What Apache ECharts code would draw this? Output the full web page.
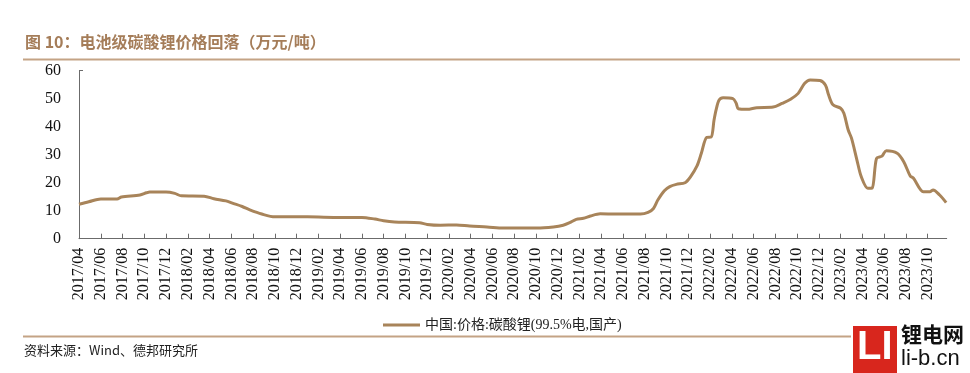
<!DOCTYPE html>
<html>
<head>
<meta charset="utf-8">
<script src="https://cdn.jsdelivr.net/npm/echarts@6/dist/echarts.min.js"></script>
<style>
html,body{margin:0;padding:0;background:#fff;}
#c{width:970px;height:373px;}
</style>
</head>
<body>
<div id="c"></div>
<script>
// ---- data ----
const dates = [
 '2017/04/01','2017/04/28','2017/06/01','2017/07/16','2017/07/28','2017/09/19','2017/10/07','2017/10/16',
 '2017/12/01','2017/12/25','2018/01/13','2018/03/16','2018/04/13','2018/05/16','2018/06/04','2018/07/01',
 '2018/07/22','2018/08/25','2018/10/01','2019/01/01','2019/04/01','2019/06/01','2019/07/07','2019/08/01',
 '2019/09/01','2019/11/10','2019/12/01','2020/01/07','2020/02/22','2020/03/28','2020/05/16','2020/07/01',
 '2020/10/04','2020/11/19','2020/12/16','2021/01/04','2021/01/22','2021/02/12','2021/03/01','2021/03/28',
 '2021/05/13','2021/07/19','2021/08/10','2021/08/25','2021/09/07','2021/09/25','2021/10/10','2021/10/28',
 '2021/11/22','2021/12/07','2021/12/25','2022/01/07','2022/01/22','2022/02/04','2022/02/12','2022/02/18',
 '2022/02/26','2022/03/07','2022/04/04','2022/04/13','2022/04/19','2022/05/13','2022/06/10','2022/07/25',
 '2022/08/19','2022/09/13','2022/10/04','2022/10/22','2022/11/07','2022/12/04','2022/12/19','2022/12/28',
 '2023/01/10','2023/02/01','2023/02/10','2023/02/22','2023/03/01','2023/03/16','2023/03/28','2023/04/16',
 '2023/04/28','2023/05/10','2023/05/25','2023/06/07','2023/07/07','2023/07/25','2023/08/13','2023/08/22',
 '2023/09/19','2023/10/07','2023/10/16','2023/11/04','2023/11/22'
];
const prices = [
 12.3,13.2,14.2,14.2,14.9,15.6,16.4,16.7,
 16.7,16.2,15.3,15.2,14.3,13.5,12.7,11.5,
 10.3,8.8,7.8,7.8,7.6,7.6,7.0,6.4,
 6.0,5.7,5.1,4.8,4.9,4.5,4.2,3.8,
 3.8,4.2,4.8,5.7,6.9,7.3,8.1,8.9,
 8.8,8.8,9.4,10.8,13.8,17.1,18.6,19.4,
 20.0,22.1,26.0,30.5,36.2,36.3,42.4,46.2,
 49.5,50.3,50.0,48.4,46.4,46.2,46.8,47.0,
 48.3,49.8,51.9,55.5,56.7,56.5,54.9,51.3,
 47.8,46.6,44.8,38.8,35.9,28.1,22.1,18.0,
 18.1,28.7,29.5,31.4,30.5,27.5,22.4,21.6,
 16.8,16.8,17.4,15.6,12.9
];
const xTickLabels = [
 '2017/04','2017/06','2017/08','2017/10','2017/12','2018/02','2018/04','2018/06','2018/08','2018/10',
 '2018/12','2019/02','2019/04','2019/06','2019/08','2019/10','2019/12','2020/02','2020/04','2020/06',
 '2020/08','2020/10','2020/12','2021/02','2021/04','2021/06','2021/08','2021/10','2021/12','2022/02',
 '2022/04','2022/06','2022/08','2022/10','2022/12','2023/02','2023/04','2023/06','2023/08','2023/10'
];
const yTicks = [0,10,20,30,40,50,60];
const seriesName = '中国:价格:碳酸锂(99.5%电,国产)';
const titleText = '图 10：电池级碳酸锂价格回落（万元/吨）';
const sourceText = '资料来源：Wind、德邦研究所';

// months since 2017/04 (axis unit)
function monthIndex(s){
  const p = s.split('/').map(Number);
  return (p[0]-2017)*12 + (p[1]-4) + (p[2]-1)/30;
}
function labelIndex(lbl){
  const p = lbl.split('/').map(Number);
  return (p[0]-2017)*12 + (p[1]-4);
}
const tickPos = xTickLabels.map(labelIndex);
const tickMap = {};
xTickLabels.forEach(l => { tickMap[labelIndex(l)] = l; });
const seriesData = dates.map((d,i) => [monthIndex(d), prices[i]]);

const chart = echarts.init(document.getElementById('c'), null, {renderer:'canvas'});
const lineColor = '#a8845a';
const serif = '"Liberation Serif","Times New Roman","Noto Sans CJK SC",serif';
chart.setOption({
  animation:false,
  backgroundColor:'#fff',
  grid:{left:79, right:23.3, top:70.7, bottom:134.3, containLabel:false},
  xAxis:{
    type:'value', min:0, max:79.75, interval:2,
    splitLine:{show:false},
    axisLine:{lineStyle:{color:'#6b6b6b', width:1}},
    axisTick:{show:true, inside:true, length:5, lineStyle:{color:'#6b6b6b'}, customValues:tickPos},
    axisLabel:{rotate:90, margin:9, fontFamily:serif, fontSize:16, color:'#111',
      customValues:tickPos,
      formatter:v => tickMap[Math.round(v)] || ''}
  },
  yAxis:{
    type:'value', min:0, max:60, interval:10,
    splitLine:{show:false},
    axisLine:{show:true, lineStyle:{color:'#6b6b6b', width:1}},
    axisTick:{show:true, inside:true, length:4, lineStyle:{color:'#6b6b6b'}, customValues:[60]},
    axisLabel:{margin:18, fontFamily:serif, fontSize:16, color:'#111', customValues:yTicks}
  },
  legend:{
    data:[seriesName], left:378, top:313, itemWidth:37, itemHeight:3, itemGap:4,
    icon:'rect',
    textStyle:{fontFamily:serif, fontSize:14, color:'#222'}
  },
  series:[{
    name:seriesName, type:'line', data:seriesData, symbol:'none', smooth:0.3,
    lineStyle:{color:lineColor, width:3},
    itemStyle:{color:lineColor}
  }],
  graphic:[
    {type:'text', left:25, top:34, style:{text:titleText, font:'bold 16px "Noto Sans CJK SC", sans-serif', fill:'#a57d59'}},
    {type:'line', shape:{x1:23, y1:59.5, x2:960, y2:59.5}, style:{stroke:'#c4a385', lineWidth:2}},
    {type:'line', shape:{x1:23, y1:336.5, x2:851, y2:336.5}, style:{stroke:'#c4a385', lineWidth:2}},
    {type:'text', left:24, top:344, style:{text:sourceText, font:'13px "Noto Sans CJK SC", sans-serif', fill:'#222'}},
    {type:'rect', shape:{x:853, y:326, width:44, height:47}, style:{fill:'#d8261d'}},
    {type:'text', left:857, top:328, style:{text:'LI', font:'bold 40px "Liberation Sans", sans-serif', fill:'#fff'}},
    {type:'text', left:901, top:324, style:{text:'锂电网', font:'bold 21px "Noto Sans CJK SC", sans-serif', fill:'#111'}},
    {type:'text', left:901, top:348, style:{text:'li-b.cn', font:'22px "Liberation Sans Narrow","Liberation Sans", sans-serif', fill:'#111'}}
  ]
});
</script>
</body>
</html>
